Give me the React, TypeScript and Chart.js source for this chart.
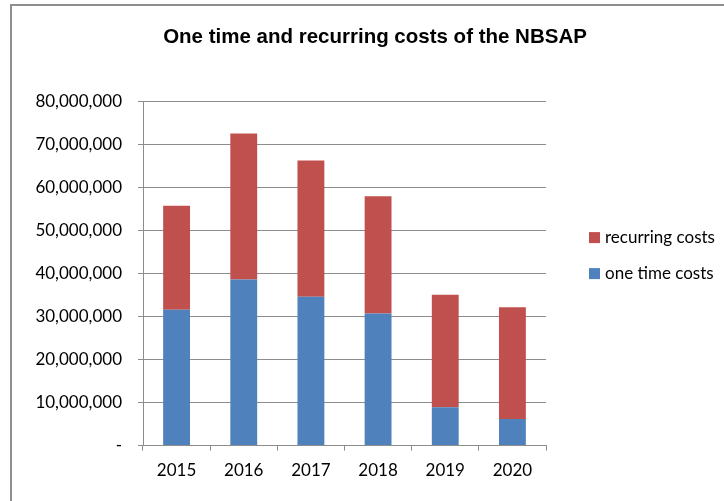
import { useEffect, useRef } from "react";
import { Chart, registerables } from "chart.js";

Chart.register(...registerables);

const titleText = "One time and recurring costs of the NBSAP";
const years = ["2015", "2016", "2017", "2018", "2019", "2020"];
const oneTimeCosts = [31600000, 38600000, 34600000, 30700000, 8900000, 6200000];
const recurringCosts = [24200000, 34000000, 31700000, 27300000, 26200000, 26000000];
const seriesNames = ["one time costs", "recurring costs"];
const seriesColors = ["#4F81BD", "#C0504D"];
const yMin = 0;
const yMax = 80000000;
const yStep = 10000000;

const formatTick = (v: number) => (v === 0 ? "-" : Number(v).toLocaleString("en-US"));

const sideLegend = {
  id: "sideLegend",
  afterDraw(chart: any) {
    const { ctx, chartArea } = chart;
    const items = chart.data.datasets
      .map((d: any) => ({ text: d.label, color: d.backgroundColor }))
      .reverse();
    ctx.save();
    ctx.font = "17px Lato";
    ctx.textBaseline = "middle";
    ctx.textAlign = "left";
    items.forEach((it: any, i: number) => {
      const cy = chartArea.top + 136 + i * 36;
      const x = chartArea.right + 43;
      ctx.fillStyle = it.color;
      ctx.fillRect(x, cy - 5.5, 11, 11);
      ctx.fillStyle = "#000";
      ctx.fillText(it.text, x + 16, cy);
    });
    ctx.restore();
  },
};

export default function App() {
  const ref = useRef<HTMLCanvasElement | null>(null);

  useEffect(() => {
    if (!ref.current) return;
    const gridColor = "#8c8c8c";
    const chart = new Chart(ref.current, {
      type: "bar",
      data: {
        labels: years,
        datasets: [
          {
            label: seriesNames[0],
            data: oneTimeCosts,
            backgroundColor: seriesColors[0],
            barPercentage: 0.4,
            categoryPercentage: 1,
          },
          {
            label: seriesNames[1],
            data: recurringCosts,
            backgroundColor: seriesColors[1],
            barPercentage: 0.4,
            categoryPercentage: 1,
          },
        ],
      },
      options: {
        responsive: false,
        maintainAspectRatio: false,
        animation: false,
        devicePixelRatio: 1,
        layout: { padding: { left: 34, right: 8, top: 10, bottom: 10 } },
        plugins: {
          legend: { display: false },
          tooltip: { enabled: false },
          title: {
            display: true,
            text: titleText,
            color: "#000",
            font: { family: "'Liberation Sans', Arial, sans-serif", size: 20.5, weight: "bold" },
            padding: { top: 15, bottom: 52 },
          },
        },
        scales: {
          x: {
            stacked: true,
            grid: {
              display: true,
              drawOnChartArea: false,
              drawTicks: true,
              tickLength: 5,
              color: gridColor,
              offset: true,
            },
            border: { display: true, color: gridColor },
            ticks: {
              color: "#000",
              padding: 10,
              font: { family: "Lato", size: 17 },
            },
          },
          y: {
            stacked: true,
            min: yMin,
            max: yMax,
            grid: { color: gridColor, tickLength: 5, drawTicks: true },
            border: { display: true, color: gridColor },
            ticks: {
              stepSize: yStep,
              color: "#000",
              padding: 16,
              font: { family: "Lato", size: 17 },
              callback: (v: any) => formatTick(Number(v)),
            },
            afterFit: (s: any) => {
              s.width = 109;
            },
          },
          spacer: {
            type: "linear",
            position: "right",
            display: true,
            grid: { display: false, drawTicks: false },
            border: { display: false },
            ticks: { display: false },
            afterFit: (s: any) => {
              s.width = 170;
            },
          },
        },
      },
      plugins: [sideLegend],
    } as any);
    return () => chart.destroy();
  }, []);

  return (
    <div style={{ position: "absolute", left: 0, top: 0, width: 724, height: 501, background: "#fff", overflow: "hidden" }}>
      <div
        style={{
          position: "absolute",
          left: 10,
          top: 4,
          width: 730,
          height: 510,
          borderTop: "2px solid #8f8f8f",
          borderLeft: "2px solid #8f8f8f",
        }}
      />
      <canvas ref={ref} width={724} height={501} style={{ position: "absolute", left: 0, top: 0, width: 724, height: 501 }} />
    </div>
  );
}
